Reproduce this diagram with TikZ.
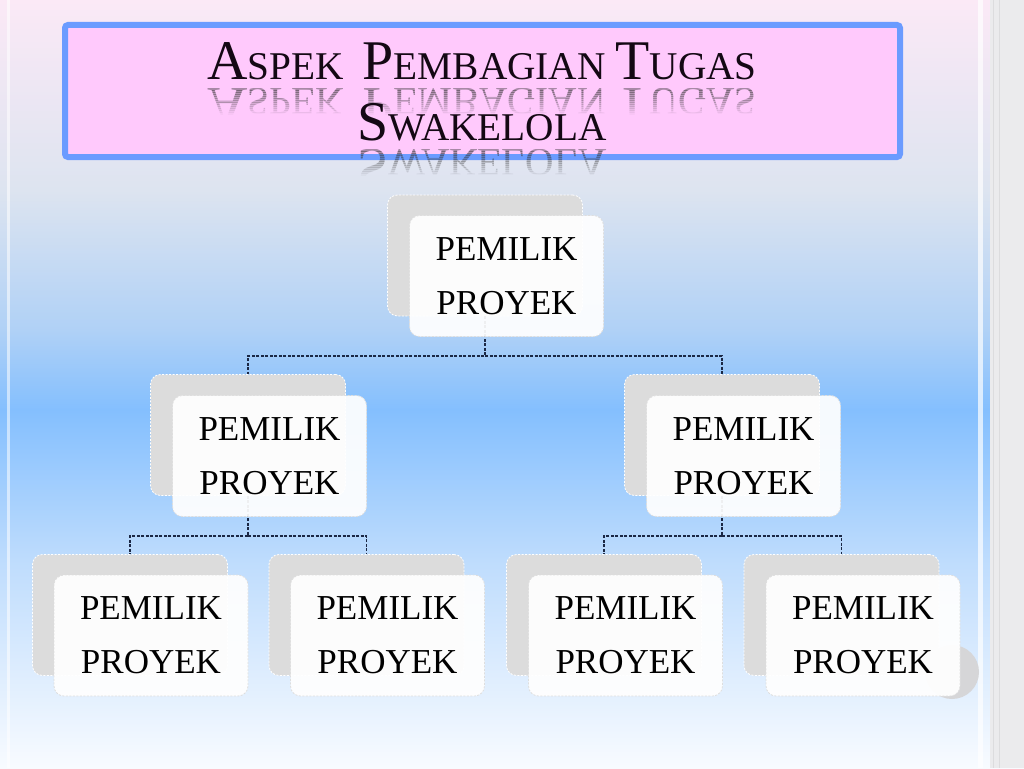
\documentclass[tikz,border=0pt]{standalone}
\usepackage{fontspec}
\setmainfont{Liberation Serif}
\definecolor{bgA}{HTML}{FBE9F6}
\definecolor{bgB}{HTML}{DDE4F0}
\definecolor{bgC}{HTML}{B0D1F6}
\definecolor{bgD}{HTML}{84BFFE}
\definecolor{bgE}{HTML}{BEDCFD}
\definecolor{bgF}{HTML}{F8FBFF}
\definecolor{titleblue}{HTML}{6B9BFF}
\definecolor{titlepink}{HTML}{FFC9FC}
\definecolor{boxgray}{HTML}{DCDCDC}
\definecolor{frontedge}{HTML}{DEDEDE}
\definecolor{connc}{HTML}{1B2845}
\definecolor{stripgray}{HTML}{EBEBED}
\definecolor{stripline}{HTML}{DCDCDE}
\definecolor{reflgray}{HTML}{303030}
\definecolor{titletext}{HTML}{140814}
\definecolor{shadowgray}{HTML}{D6D6D8}
\newcommand\capsm[2]{{\fontsize{56}{60}\selectfont #1}{\fontsize{39.3}{60}\selectfont #2}}
\newcommand\titleone{\capsm{A}{SPEK}\hspace{19pt}\capsm{P}{EMBAGIAN} \capsm{T}{UGAS}}
\newcommand\titletwo{\capsm{S}{WAKELOLA}}
\tikzset{
  backbox/.style={rectangle, rounded corners=10pt, minimum width=195pt, minimum height=121pt,
    inner sep=0pt, fill=boxgray, draw=white, line width=0.8pt, dash pattern=on 2pt off 1.5pt},
  frontbox/.style={rectangle, rounded corners=10pt, minimum width=194pt, minimum height=121pt,
    inner sep=0pt, fill=white, fill opacity=0.93, text opacity=1, draw=frontedge, line width=0.8pt,
    dash pattern=on 2pt off 1.5pt, align=center, text=black, font=\fontsize{35}{54}\selectfont},
  conn/.style={draw=connc, line width=1.2pt, dash pattern=on 3pt off 1.5pt},
  titletxt/.style={anchor=base, inner sep=0pt, text=titletext, font=\fontsize{39.3}{60}\selectfont},
  refltxt/.style={anchor=base, inner sep=0pt, text=reflgray, yscale=-1, transform shape, font=\fontsize{39.3}{60}\selectfont}
}
\begin{document}
\begin{tikzpicture}[x=1pt, y=-1pt]
\useasboundingbox (0,0) rectangle (1024,768);
% background
\shade[top color=bgA, bottom color=bgB] (0,0) rectangle (1024,190);
\shade[top color=bgB, bottom color=bgC] (0,189.5) rectangle (1024,330);
\shade[top color=bgC, bottom color=bgD] (0,329.5) rectangle (1024,410);
\shade[top color=bgD, bottom color=bgE] (0,409.5) rectangle (1024,560);
\shade[top color=bgE, bottom color=bgF] (0,559.5) rectangle (1024,768);
% side strips
\fill[white, opacity=0.55] (7,0) rectangle (9.5,768);
\fill[white, opacity=0.7] (978,0) rectangle (983,768);
\fill[stripgray] (990,0) rectangle (1024,768);
\draw[stripline, line width=0.8pt] (993,0) -- (993,768);
\draw[stripline, line width=0.8pt] (999,0) -- (999,768);
% title box
\draw[line width=6pt, draw=titleblue, fill=titlepink, rounded corners=3pt] (65,25) rectangle (900,157);
% reflections (stepwise fading)
\foreach \i in {0,...,12} {
  \pgfmathsetmacro\op{0.42*(1-\i/13)}
  \begin{scope}
    \clip (150,88+2*\i) rectangle (820,90+2*\i);
    \node[refltxt, opacity=\op] (r1) at (482,88) {\titleone};
  \end{scope}
  \begin{scope}
    \clip (150,149+2*\i) rectangle (820,151+2*\i);
    \node[refltxt, opacity=\op] (r2) at (482,149) {\titletwo};
  \end{scope}
}
\node[titletxt] (t1) at (482,79) {\titleone};
\node[titletxt] (t2) at (482,140) {\titletwo};
% back boxes
\node[backbox] (b0) at (485,255.5) {};
\node[backbox] (b1) at (248,435) {};
\node[backbox] (b2) at (722,435) {};
\node[backbox] (b3) at (130,615) {};
\node[backbox] (b4) at (366.5,615) {};
\node[backbox] (b5) at (604,615) {};
\node[backbox] (b6) at (841.5,615) {};
% connectors
\coordinate (bus0) at (485,356);
\coordinate (bus1) at (248,536);
\coordinate (bus2) at (722,536);
\draw[conn] (b0.south) -- (bus0) -| (b1.north);
\draw[conn] (bus0) -| (b2.north);
\draw[conn] (b1.south) -- (bus1) -| (b3.north);
\draw[conn] (bus1) -| (b4.north);
\draw[conn] (b2.south) -- (bus2) -| (b5.north);
\draw[conn] (bus2) -| (b6.north);
% shadow circle
\fill[shadowgray] (952,672) circle (27);
% front boxes
\node[frontbox] (f0) at (506.5,276) {PEMILIK\\PROYEK};
\node[frontbox] (f1) at (269.5,456) {PEMILIK\\PROYEK};
\node[frontbox] (f2) at (743.5,456) {PEMILIK\\PROYEK};
\node[frontbox] (f3) at (151,635.5) {PEMILIK\\PROYEK};
\node[frontbox] (f4) at (387.5,635.5) {PEMILIK\\PROYEK};
\node[frontbox] (f5) at (625.5,635.5) {PEMILIK\\PROYEK};
\node[frontbox] (f6) at (863,635.5) {PEMILIK\\PROYEK};
\end{tikzpicture}
\end{document}
